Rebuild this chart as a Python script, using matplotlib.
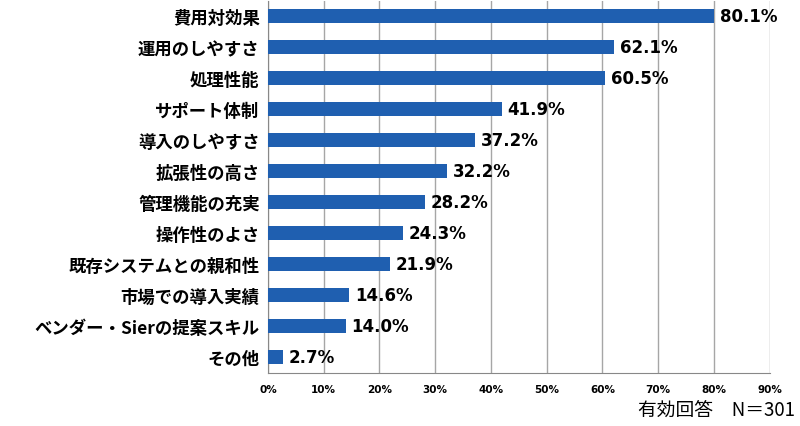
import matplotlib.pyplot as plt
from matplotlib.ticker import FuncFormatter

plt.rcParams['font.family'] = ['Noto Sans CJK JP', 'DejaVu Sans']

# data (top to bottom)
labels = ['費用対効果', '運用のしやすさ', '処理性能', 'サポート体制', '導入のしやすさ',
          '拡張性の高さ', '管理機能の充実', '操作性のよさ', '既存システムとの親和性',
          '市場での導入実績', 'ベンダー・Sierの提案スキル', 'その他']
values = [80.1, 62.1, 60.5, 41.9, 37.2, 32.2, 28.2, 24.3, 21.9, 14.6, 14.0, 2.7]

fig = plt.figure(figsize=(8, 4.27), dpi=100)
ax = fig.add_axes([0.335, 0.125, 0.627, 0.871])

pos = list(range(len(values)))
ax.barh(pos, values, height=0.45, color='#1f5fb0', zorder=3)
ax.set_ylim(len(values) - 0.5, -0.5)
ax.set_xlim(0, 90)
ax.set_xticks(range(0, 91, 10))
ax.xaxis.set_major_formatter(FuncFormatter(lambda v, p: f'{int(v)}%'))
ax.grid(axis='x', color='#a6a6a6', linewidth=1, zorder=0)

ax.set_yticks(pos)
ax.set_yticklabels(labels, fontsize=12.5, fontweight='bold')
for t in ax.get_xticklabels():
    t.set_fontsize(7.5)
    t.set_fontweight('bold')
    t.set_family(['DejaVu Sans'])
ax.tick_params(axis='y', length=0, pad=6)
ax.tick_params(axis='x', length=0, pad=8)

for s in ['top', 'right']:
    ax.spines[s].set_visible(False)
ax.spines['left'].set_color('#888888')
ax.spines['bottom'].set_color('#888888')

for p, v in zip(pos, values):
    ax.text(v + 1.0, p, f'{v:.1f}%', va='center', ha='left',
            fontsize=12, fontweight='bold', family=['DejaVu Sans'])

fig.text(0.994, 0.04, '有効回答　N＝301', ha='right', va='center', fontsize=13.5)

fig.savefig('out.png', dpi=100)
